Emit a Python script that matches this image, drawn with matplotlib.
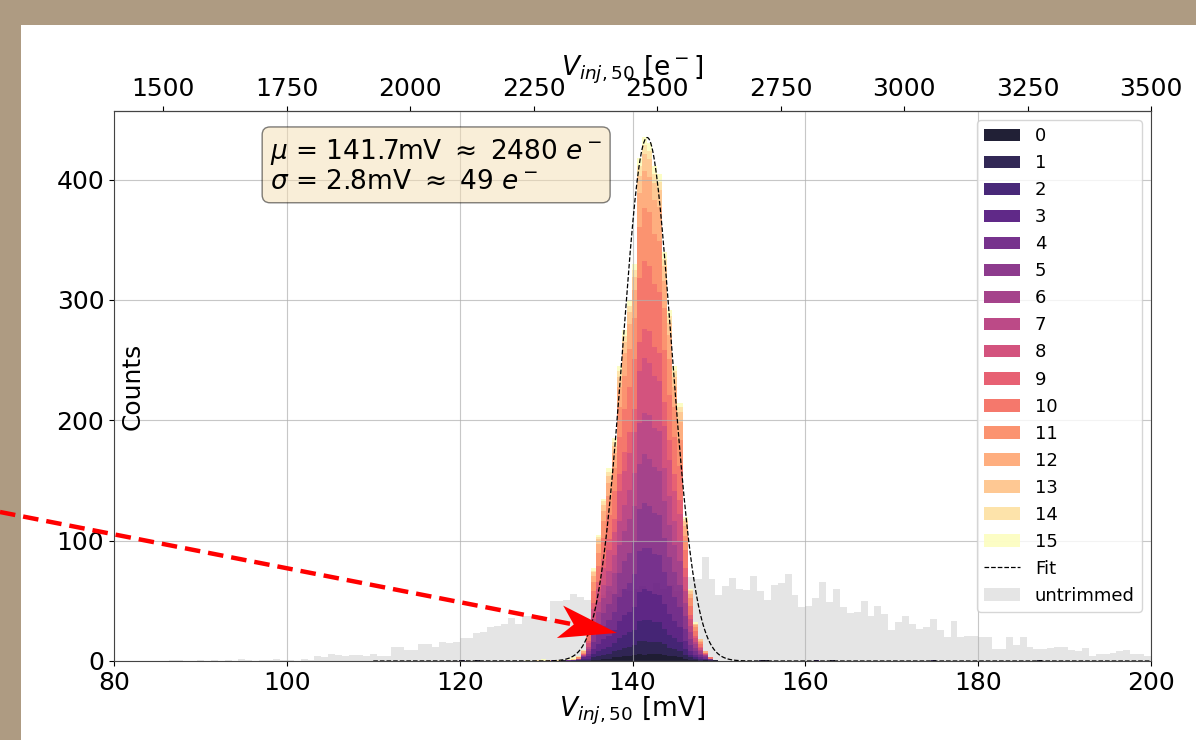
import numpy as np
import matplotlib
matplotlib.use("Agg")
import matplotlib.pyplot as plt
from matplotlib.patches import Rectangle, Patch, Polygon
from matplotlib.lines import Line2D
from matplotlib.transforms import IdentityTransform

# ---------------- data ----------------
untrimmed_first_edge = 84.0
untrimmed_bin_width = 0.8
untrimmed_counts = [
    0, 0, 0, 1, 1, 0, 0, 1, 0, 1,
    0, 1, 0, 2, 1, 0, 1, 1, 2, 1,
    1, 0, 2, 1, 4, 3, 6, 5, 4, 5,
    5, 4, 6, 4, 4, 12, 12, 9, 9, 14,
    14, 12, 16, 15, 16, 19, 19, 23, 24, 28,
    29, 31, 36, 31, 37, 37, 37, 34, 50, 50,
    51, 56, 53, 51, 52, 55, 58, 56, 60, 58,
    60, 62, 58, 65, 60, 63, 58, 60, 70, 68,
    86, 68, 55, 62, 69, 60, 59, 71, 58, 51,
    63, 65, 72, 55, 45, 46, 52, 66, 49, 60,
    45, 40, 41, 50, 37, 46, 39, 26, 32, 37,
    31, 27, 28, 35, 26, 20, 33, 20, 21, 21,
    20, 20, 10, 10, 20, 13, 20, 12, 10, 10,
    11, 12, 12, 9, 8, 11, 4, 6, 6, 7,
    8, 9, 6, 6, 4,
]

# trimmed histogram: 150 bins from 110 to 198 mV; the lists below hold the
# bins 36..67 (131.1 - 149.9 mV) for each trim value
trim_range = (110.0, 198.0)
trim_nbins = 150
trim_window_start = 36
trim_00 = [0,1,0,0,0,0,0,1,1,2,2,3,3,4,4,5,6,5,6,6,6,5,4,4,3,2,1,1,0,1,0,1]
trim_01 = [0,0,0,0,1,1,1,2,3,3,4,5,6,7,8,8,11,12,10,10,10,9,7,6,5,3,2,1,1,0,1,0]
trim_02 = [0,0,0,1,0,1,1,3,4,5,6,7,10,11,12,13,16,17,18,16,16,13,11,9,8,5,2,1,1,1,0,0]
trim_03 = [0,0,1,0,0,1,2,4,6,8,9,11,14,16,17,19,24,26,24,24,23,20,17,14,12,7,3,2,1,0,0,0]
trim_04 = [0,0,0,0,0,0,2,6,9,11,13,15,20,22,24,27,34,34,36,33,33,27,23,20,17,10,5,3,2,1,1,0]
trim_05 = [0,0,0,0,1,1,2,6,8,11,13,15,20,23,25,27,35,37,35,34,33,28,24,21,18,10,5,3,1,1,0,0]
trim_06 = [0,0,0,0,0,0,2,7,10,12,15,17,23,25,28,30,38,41,39,38,37,31,27,22,20,11,6,3,2,1,0,0]
trim_07 = [0,0,0,0,0,1,2,6,8,11,13,15,20,22,24,27,34,34,36,33,33,27,24,20,17,10,5,2,1,0,0,0]
trim_08 = [0,0,0,0,0,0,3,8,11,14,17,19,25,28,31,34,43,46,44,43,42,35,30,25,22,12,6,3,2,1,0,0]
trim_09 = [0,0,0,0,0,1,2,5,6,8,9,11,14,16,17,19,24,24,26,24,23,20,17,14,12,7,3,2,1,0,0,0]
trim_10 = [0,0,0,0,0,0,4,10,13,17,20,23,31,35,38,42,53,56,54,52,51,43,37,31,28,15,8,4,2,1,1,0]
trim_11 = [0,0,0,0,1,1,3,8,11,14,16,19,25,28,31,34,43,44,45,42,42,35,30,25,22,12,6,3,2,0,0,0]
trim_12 = [0,0,0,0,0,1,2,5,7,9,11,13,17,19,21,23,28,31,29,28,28,23,20,17,15,8,4,2,1,1,0,0]
trim_13 = [0,0,0,1,0,0,1,3,4,5,6,6,8,9,10,11,14,14,15,14,14,12,10,8,8,4,2,1,1,0,0,0]
trim_14 = [1,0,0,0,1,1,0,1,2,3,3,3,5,5,5,6,8,8,7,8,7,6,6,5,4,2,1,0,0,0,0,0]
trim_15 = [0,0,1,1,0,0,1,2,2,2,3,3,4,5,5,5,7,6,6,6,7,6,5,4,3,2,1,1,0,0,0,0]
trim_series = [trim_00, trim_01, trim_02, trim_03, trim_04, trim_05, trim_06, trim_07,
               trim_08, trim_09, trim_10, trim_11, trim_12, trim_13, trim_14, trim_15]
trim_labels = [str(i) for i in range(16)]

# isolated trimmed pixels outside the window (mV, trim value, count)
outlier_mv = [120.5, 122.3, 128.0, 129.2, 129.8, 130.4, 130.9, 155.0, 155.6, 161.5, 163.3, 174.7, 186.9]
outlier_trim = [1, 0, 15, 14, 15, 13, 2, 1, 0, 2, 0, 1, 0]
outlier_counts = [1, 1, 1, 1, 2, 1, 1, 1, 1, 1, 1, 1, 1]

fit_mu = 141.7
fit_sigma = 2.8
fit_amplitude = 435.0
fit_range = (110.0, 200.0)

e_per_mv = 17.5
top_ticks = [1500, 1750, 2000, 2250, 2500, 2750, 3000, 3250, 3500]
x_ticks = [80, 100, 120, 140, 160, 180, 200]
y_ticks = [0, 100, 200, 300, 400]

# annotation arrow target (data coords)
arrow_target = (138.2, 23.3)

# ---------------- figure ----------------
W, H = 1196, 740
fig = plt.figure(figsize=(W / 100, H / 100), dpi=100)
fig.patch.set_facecolor("#ae9b82")
fig.add_artist(Rectangle((21 / W, 0), 1 - 21 / W, (H - 25) / H, transform=fig.transFigure,
                         facecolor="white", edgecolor="none", zorder=-5))

ax = fig.add_axes([114 / W, (H - 661) / H, (1151 - 114) / W, (661 - 111) / H])

# untrimmed
u_edges = untrimmed_first_edge + untrimmed_bin_width * np.arange(len(untrimmed_counts) + 1)
u_centers = 0.5 * (u_edges[:-1] + u_edges[1:])
ax.hist(u_centers, bins=u_edges, weights=untrimmed_counts, histtype="stepfilled",
        color="gray", alpha=0.2, linewidth=0, zorder=0.8)

# trimmed, stacked by trim value
t_edges = np.linspace(trim_range[0], trim_range[1], trim_nbins + 1)
t_centers = 0.5 * (t_edges[:-1] + t_edges[1:])
colors = plt.cm.magma(np.linspace(0.06, 1.0, 16))
xs, ws = [], []
for k, series in enumerate(trim_series):
    c = list(t_centers[trim_window_start:trim_window_start + len(series)])
    w = list(series)
    for mv, tr, n in zip(outlier_mv, outlier_trim, outlier_counts):
        if tr == k:
            c.append(mv)
            w.append(n)
    xs.append(c)
    ws.append(w)
ax.hist(xs, bins=t_edges, weights=ws, stacked=True, histtype="stepfilled",
        color=colors, alpha=0.9, linewidth=0, zorder=1)

# fit
fx = np.linspace(fit_range[0], fit_range[1], 800)
fy = fit_amplitude * np.exp(-0.5 * ((fx - fit_mu) / fit_sigma) ** 2)
ax.plot(fx, fy, color="black", linestyle="--", linewidth=0.9, zorder=3)

ax.set_xlim(80, 200)
ax.set_ylim(0, 457)
ax.set_xticks(x_ticks)
ax.set_yticks(y_ticks)
ax.tick_params(labelsize=18)
ax.grid(True, color="#b0b0b0", alpha=0.7, linewidth=0.8)
for s in ax.spines.values():
    s.set_color("#444444")
ax.set_xlabel(r"$V_{inj,50}$ [mV]", fontsize=19, labelpad=0)
ax.set_ylabel("Counts", fontsize=18)
ax.yaxis.set_label_coords(0.03, 0.5)

secax = ax.secondary_xaxis("top", functions=(lambda v: v * e_per_mv, lambda e: e / e_per_mv))
secax.set_xticks(top_ticks)
secax.tick_params(labelsize=18)
secax.set_xlabel(r"$V_{inj,50}$ [e$^-$]", fontsize=19, labelpad=1)

ax.text(0.1505, 0.953,
        r"$\mu$ = 141.7mV $\approx$ 2480 $e^-$" + "\n" + r"$\sigma$ = 2.8mV $\approx$ 49 $e^-$",
        transform=ax.transAxes, fontsize=19, va="top", ha="left", linespacing=1.1,
        bbox=dict(boxstyle="round,pad=0.3", facecolor="wheat", alpha=0.5), zorder=5)

handles = [Patch(facecolor=colors[i], alpha=0.9) for i in range(16)]
handles.append(Line2D([], [], color="black", linestyle="--", linewidth=0.9))
handles.append(Patch(facecolor="gray", alpha=0.2))
labels = trim_labels + ["Fit", "untrimmed"]
ax.legend(handles, labels, loc="upper right", fontsize=13)

# red "stealth" arrow from the slide's left edge to the peak base
tip = ax.transData.transform(arrow_target)
tail = np.array([0.0, H - 512.0])
d = (tip - tail) / np.hypot(*(tip - tail))
n = np.array([-d[1], d[0]])
head_len, notch_len, half_w = 58.0, 44.0, 16.5
notch = tip - notch_len * d
shaft = Line2D([tail[0], notch[0]], [tail[1], notch[1]], transform=IdentityTransform(),
               color="red", linewidth=3.2, linestyle=(0, (3.5, 1.8)), zorder=10)
head = Polygon([tip, tip - head_len * d + half_w * n, notch, tip - head_len * d - half_w * n],
               closed=True, transform=IdentityTransform(), facecolor="red",
               edgecolor="none", zorder=11)
fig.add_artist(shaft)
fig.add_artist(head)

fig.savefig("out.png", dpi=100, facecolor=fig.get_facecolor())
